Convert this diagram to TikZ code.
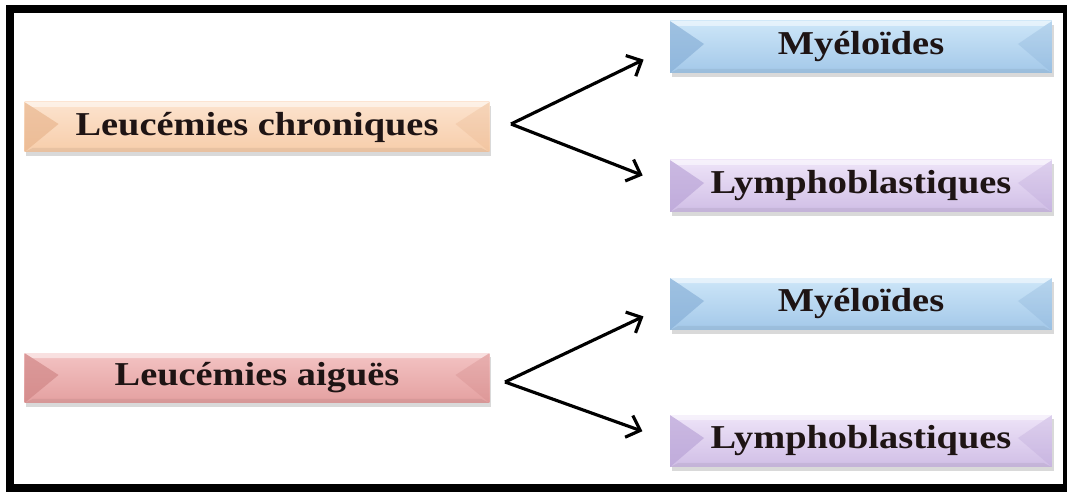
\documentclass[tikz,border=0pt]{standalone}
\usepackage{fontspec}
\setmainfont[FakeStretch=1.15]{Liberation Serif}
\usetikzlibrary{positioning,arrows.meta,shadows}
\definecolor{pecheclair}{HTML}{FCE3CE}
\definecolor{peche}{HTML}{F7CDAA}
\definecolor{pechefonce}{HTML}{E8B48C}
\definecolor{bleuclair}{HTML}{CDE6F8}
\definecolor{bleu}{HTML}{A3C8E9}
\definecolor{bleufonce}{HTML}{86AED6}
\definecolor{lavandeclair}{HTML}{EEE4F8}
\definecolor{lavande}{HTML}{D0BEE6}
\definecolor{lavandefonce}{HTML}{B8A2D6}
\definecolor{roseclair}{HTML}{F3C3C3}
\definecolor{rose}{HTML}{E4A0A0}
\definecolor{rosefonce}{HTML}{CF8484}
\definecolor{encre}{HTML}{1E1414}

\begin{document}
\begin{tikzpicture}[x=0.02cm, y=-0.02cm,
      font=\bfseries\fontsize{19}{22}\selectfont, text=encre,
      caja/.style n args={3}{inner sep=0pt, align=center,
                top color=#1, bottom color=#2,
                drop shadow={shadow xshift=1pt, shadow yshift=-2pt, opacity=.3},
                path picture={
                  \fill[#3, opacity=.65] (path picture bounding box.north west)
                    -- ([shift={(34,-3)}]path picture bounding box.west)
                    -- (path picture bounding box.south west) -- cycle;
                  \fill[#3, opacity=.3] (path picture bounding box.north east)
                    -- ([shift={(-34,-3)}]path picture bounding box.east)
                    -- (path picture bounding box.south east) -- cycle;
                  \fill[white, opacity=.5] (path picture bounding box.north west)
                    -- (path picture bounding box.north east) -- ++(-8,5)
                    -- ([shift={(8,5)}]path picture bounding box.north west) -- cycle;
                  \fill[black, opacity=.06] (path picture bounding box.south west)
                    -- (path picture bounding box.south east) -- ++(-8,-4)
                    -- ([shift={(8,-4)}]path picture bounding box.south west) -- cycle;
                }},
      gauche/.style={minimum width=9.3cm, minimum height=1cm},
      droite/.style={minimum width=7.64cm, minimum height=1.04cm},
      fl/.style={-{Straight Barb[length=2.4mm, width=4.6mm]}, line width=1.8pt,
                 shorten >=0.58cm}]
    \useasboundingbox (0,0) rectangle (1067,492);
    \draw[line width=0.16cm] (10,9) rectangle (1067,488);

    % leucemies chroniques
    \node[caja={pecheclair}{peche}{pechefonce}, gauche] (chron) at (257,127) {Leucémies chroniques};
    \node[caja={bleuclair}{bleu}{bleufonce}, droite] (m1) at (861,47) {Myéloïdes};
    \node[caja={lavandeclair}{lavande}{lavandefonce}, droite] (l1) at (861,186) {Lymphoblastiques};
    \coordinate (v1) at (511,124);
    \draw[fl] (v1) -- (m1.west);
    \draw[fl] (v1) -- (l1.west);

    % leucemies aigues
    \node[caja={roseclair}{rose}{rosefonce}, gauche] (aigu) at (257,378) {Leucémies aiguës};
    \node[caja={bleuclair}{bleu}{bleufonce}, droite] (m2) at (861,304) {Myéloïdes};
    \node[caja={lavandeclair}{lavande}{lavandefonce}, droite] (l2) at (861,441) {Lymphoblastiques};
    \coordinate (v2) at (505,382);
    \draw[fl] (v2) -- (m2.west);
    \draw[fl] (v2) -- (l2.west);
  \end{tikzpicture}
\end{document}
